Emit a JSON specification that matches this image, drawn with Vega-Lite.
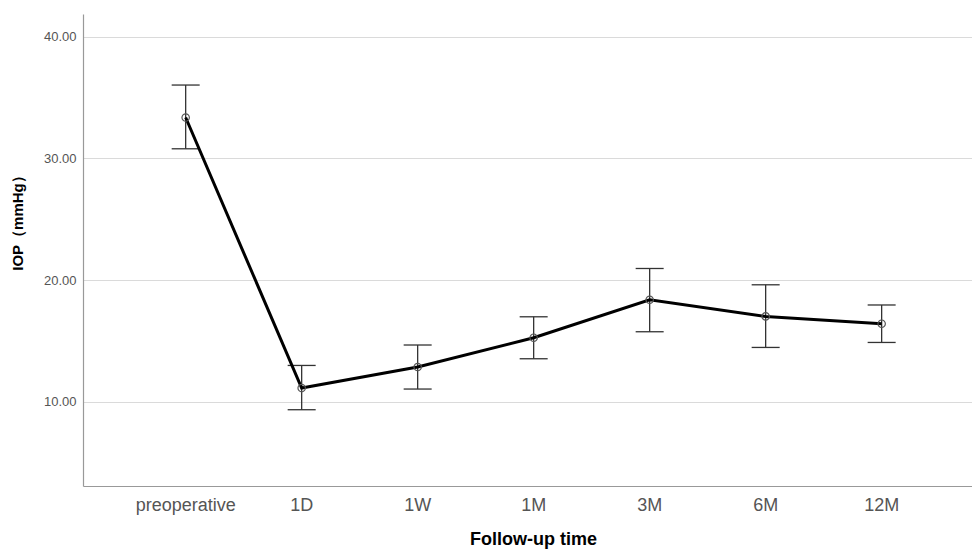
{
  "$schema": "https://vega.github.io/schema/vega-lite/v6.json",
  "width": 889,
  "height": 472,
  "autosize": "none",
  "padding": {"left": 83, "top": 14, "right": 0, "bottom": 66},
  "background": "white",
  "config": {"view": {"stroke": null}, "font": "Liberation Sans"},
  "data": {"values": [
    {"time": "preoperative", "mean": 33.36, "lower": 30.79, "upper": 36.03},
    {"time": "1D", "mean": 11.12, "lower": 9.34, "upper": 12.98},
    {"time": "1W", "mean": 12.85, "lower": 11.04, "upper": 14.66},
    {"time": "1M", "mean": 15.26, "lower": 13.53, "upper": 16.98},
    {"time": "3M", "mean": 18.38, "lower": 15.75, "upper": 20.95},
    {"time": "6M", "mean": 17.01, "lower": 14.46, "upper": 19.61},
    {"time": "12M", "mean": 16.41, "lower": 14.87, "upper": 17.95}
  ]},
  "encoding": {
    "x": {
      "field": "time", "type": "nominal",
      "sort": ["preoperative", "1D", "1W", "1M", "3M", "6M", "12M"],
      "scale": {"type": "band", "paddingInner": 0, "paddingOuter": 0.332, "align": 0.58},
      "axis": {
        "title": "Follow-up time", "titleFontSize": 18, "titleFontWeight": "bold", "titleColor": "#000",
        "titlePadding": 16, "titleX": 450,
        "labelAngle": 0, "labelFontSize": 18, "labelColor": "#555", "labelPadding": 10,
        "ticks": false, "grid": false, "domainColor": "#999", "domainWidth": 1.2
      }
    }
  },
  "layer": [
    {
      "mark": {"type": "rule", "color": "#333", "strokeWidth": 1.3},
      "encoding": {
        "y": {
          "field": "lower", "type": "quantitative",
          "scale": {"domain": [3.07, 41.87], "nice": false, "zero": false},
          "axis": {
            "title": "IOP（mmHg）", "titleFontSize": 15, "titleColor": "#000", "titleFontWeight": "bold",
            "titlePadding": 18, "titleY": 205,
            "values": [10, 20, 30, 40], "format": ".2f",
            "labelFontSize": 13, "labelColor": "#555", "labelPadding": 7,
            "ticks": false, "grid": true, "gridColor": "#dadada", "gridWidth": 1.2,
            "domainColor": "#999", "domainWidth": 1.2
          }
        },
        "y2": {"field": "upper"}
      }
    },
    {
      "mark": {"type": "tick", "orient": "horizontal", "size": 28, "thickness": 1.3, "color": "#333", "opacity": 1},
      "encoding": {"y": {"field": "upper", "type": "quantitative"}}
    },
    {
      "mark": {"type": "tick", "orient": "horizontal", "size": 28, "thickness": 1.3, "color": "#333", "opacity": 1},
      "encoding": {"y": {"field": "lower", "type": "quantitative"}}
    },
    {
      "mark": {"type": "line", "color": "#000", "strokeWidth": 3},
      "encoding": {"y": {"field": "mean", "type": "quantitative"}}
    },
    {
      "mark": {"type": "point", "shape": "circle", "filled": false, "size": 55, "color": "#555", "strokeWidth": 1.2, "opacity": 1},
      "encoding": {"y": {"field": "mean", "type": "quantitative"}}
    }
  ]
}
